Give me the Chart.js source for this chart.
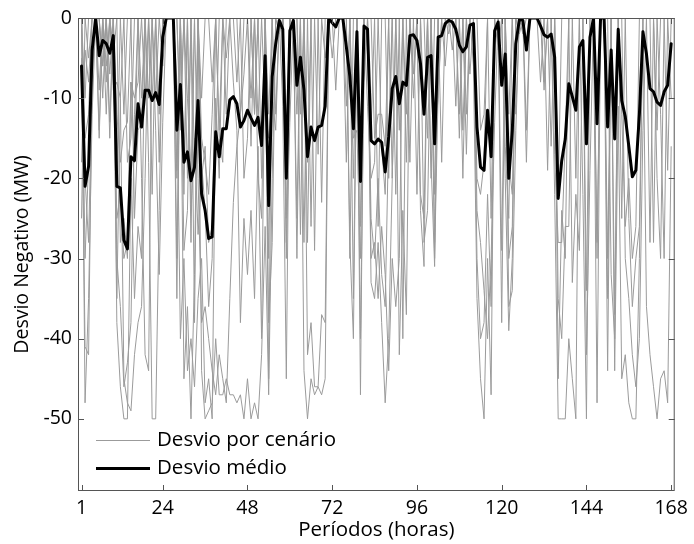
<!DOCTYPE html>
<html>
<head>
<meta charset="utf-8">
<script src="https://cdn.jsdelivr.net/npm/chart.js@4.4.1/dist/chart.umd.min.js"></script>
<style>
  html, body { margin: 0; padding: 0; background: #fff; }
  #wrap { width: 694px; height: 544px; }
</style>
</head>
<body>
<div id="wrap"><canvas id="chart" width="694" height="544"></canvas></div>
<script>
const periodos = Array.from({ length: 168 }, (_, i) => i + 1);
const xTicks = [1, 24, 48, 72, 96, 120, 144, 168];
const yTicks = [0, -10, -20, -30, -40, -50];

// desvio medio (MW)
const desvioMedio = [
  -6, -21, -18.5, -4, 0, -4.7, -2.8, -3.2, -4.4, -2.2,
  -21, -21.2, -27.7, -28.8, -17.3, -17.8, -10.7, -13.6, -9, -9,
  -10.3, -9.3, -10.8, -2.4, 0, 0, 0, -14, -8.3, -18,
  -16.7, -20.3, -18.6, -10.3, -21.9, -24, -27.5, -27.3, -14.2, -17.3,
  -13.8, -13.8, -10.2, -9.8, -10.7, -13.6, -12.8, -11.5, -12.5, -13.4,
  -12.4, -15.9, -4.7, -23.4, -7.3, -3.2, -0.3, -1.4, -20, -1.6,
  -0.3, -8.4, -4.9, -9, -17.3, -13.6, -15.3, -13.6, -13.4, -11,
  0, -0.6, -1.1, 0, 0, -3.6, -7.3, -13.8, -1.7, -20.4,
  -1, -1.4, -15.3, -15.7, -15.1, -15.5, -19.2, -14.8, -8.8, -7.3,
  -10.7, -8, -8.4, -2.2, -2.1, -2.8, -5.7, -12, -4.9, -4.7,
  -15.7, -2.4, -2.2, -0.7, -0.3, -0.5, -1.4, -3.4, -4.2, -3.6,
  -0.9, -0.7, -13.6, -18.6, -19, -11.5, -17.3, -1.6, -0.5, -8.4,
  -4.5, -20, -14, -3.2, -0.2, -0.3, -4, 0, 0, 0,
  -1, -2.1, -2.4, -2, -4.9, -22.5, -17.8, -15.1, -8.2, -9.8,
  -11.5, -3.6, -2.8, -15.7, -2.4, 0, -13.2, 0, 0, -13.6,
  -4, -15.1, -1.4, -10.3, -12.3, -16, -19.8, -19, -12, -1.7,
  -4.5, -8.8, -9.2, -10.5, -10.9, -9.2, -8.4, -3.2
];

// desvio por cenario (MW), thin grey lines
const cenarioA = [
  0, -15, -12, 0, 0, 0, -6, 0, 0, -4,
  -25, -22, -30, -28, -8, -18, 0, -10, 0, 0,
  0, -10, 0, 0, 0, 0, 0, -19, 0, -29,
  -24, 0, -18, 0, -15, -18, -22, -12, 0, -14,
  0, -5, 0, 0, 0, -12, -7, 0, 0, -12,
  0, 0, 0, -12, 0, -12, 0, 0, -14, 0,
  0, 0, 0, 0, -18, 0, 0, 0, 0, -5,
  0, 0, 0, 0, 0, 0, 0, -35, 0, -40,
  -8, 0, -30, -28, -35, -26, -32, -44, -30, -36,
  -30, 0, -18, 0, 0, -22, 0, -28, -24, 0,
  0, 0, 0, 0, 0, 0, 0, 0, 0, 0,
  0, 0, 0, 0, 0, 0, 0, 0, 0, 0,
  0, -12, 0, 0, 0, 0, 0, 0, 0, 0,
  0, -9, 0, 0, -22, -50, -50, -50, -40, -45,
  -50, 0, -22, -50, 0, 0, -48, 0, 0, -44,
  0, 0, 0, 0, 0, 0, 0, 0, 0, 0,
  0, 0, 0, 0, 0, 0, 0, 0
];
const cenarioB = [
  -18, -4, -8, 0, 0, -9, 0, 0, -13, 0,
  -12, -18, -14, -13, 0, -25, -14, -13, 0, -10,
  0, 0, -12, 0, 0, 0, 0, 0, -12, 0,
  -10, -20, 0, 0, -10, 0, 0, -8, 0, 0,
  0, 0, 0, -8, -14, -38, -25, -32, -24, -35,
  -16, -40, 0, -45, 0, 0, 0, 0, -18, 0,
  0, 0, -12, 0, 0, 0, 0, -17, 0, 0,
  0, 0, 0, 0, 0, -11, 0, -20, 0, 0,
  0, 0, -14, 0, -26, 0, 0, -20, 0, 0,
  0, 0, 0, 0, 0, 0, 0, -12, 0, 0,
  -15, -10, 0, 0, 0, 0, 0, 0, 0, -12,
  0, 0, 0, -14, -12, 0, 0, 0, 0, 0,
  0, -18, -22, 0, 0, 0, 0, 0, 0, 0,
  0, 0, 0, 0, 0, -22, 0, 0, 0, 0,
  0, 0, 0, 0, 0, 0, 0, 0, 0, 0,
  0, 0, 0, 0, 0, 0, 0, 0, 0, 0,
  0, 0, 0, 0, 0, 0, 0, 0
];
const cenarioC = [
  0, -48, -35, -12, 0, 0, 0, -8, 0, 0,
  -38, -46, -50, -50, -20, -35, -26, -30, 0, -18,
  -50, -50, -24, 0, 0, 0, 0, -30, 0, -45,
  -36, -50, -32, 0, -44, -50, -49, -48, -40, -47,
  -47, -45, -47, -47, -48, -47, -50, -45, -50, -48,
  -50, -42, -26, -47, -20, 0, 0, 0, 0, 0,
  0, 0, 0, 0, 0, 0, 0, 0, 0, 0,
  0, 0, 0, 0, 0, 0, -28, -40, 0, -47,
  0, 0, -33, -35, -28, -38, -48, -40, -20, 0,
  -42, -24, -37, 0, -10, 0, -24, -31, 0, -18,
  -31, 0, -18, 0, 0, 0, -11, 0, -20, 0,
  0, -6, -35, -45, -50, -30, -47, 0, -4, 0,
  -20, -39, -30, 0, 0, -2, 0, 0, 0, 0,
  0, 0, 0, 0, 0, 0, 0, 0, 0, 0,
  0, 0, 0, 0, 0, 0, 0, 0, 0, 0,
  0, -44, -11, -45, -42, -48, -50, -50, -30, 0,
  0, 0, -28, 0, -12, -30, 0, -10
];
const cenarioD = [
  -25, 0, -5, 0, 0, 0, 0, -6, 0, -9,
  -8, -10, 0, -18, -15, 0, 0, 0, -10, 0,
  -10, 0, 0, -6, 0, 0, 0, -20, 0, -18,
  0, -24, -15, -27, -20, -16, -28, -26, -17, 0,
  0, 0, 0, 0, 0, 0, -20, -15, 0, -12,
  0, -20, 0, -30, 0, 0, 0, 0, -25, 0,
  0, -12, 0, 0, -28, 0, -29, 0, 0, 0,
  0, 0, 0, 0, 0, 0, -30, 0, 0, -26,
  0, -11, -20, -18, 0, -16, -22, 0, -20, 0,
  -14, 0, -12, 0, -7, 0, 0, 0, -15, 0,
  -22, 0, 0, 0, 0, -4, 0, 0, -14, 0,
  0, 0, -20, -22, -18, 0, -25, 0, 0, 0,
  -16, -25, 0, -12, 0, 0, 0, 0, 0, 0,
  -8, 0, 0, 0, -17, -28, -28, -15, 0, 0,
  -20, 0, 0, 0, 0, 0, 0, 0, 0, -30,
  0, 0, 0, -12, -26, -20, -30, -26, 0, 0,
  0, 0, 0, -14, 0, 0, 0, 0
];
const cenarioE = [
  0, -20, -28, -8, 0, -14, 0, 0, -7, 0,
  -30, -36, -46, -43, -38, -12, 0, -20, -42, -44,
  0, -14, -32, -13, 0, 0, 0, -8, -40, -30,
  -44, -40, -46, -35, -30, -48, -45, -50, -10, -20,
  0, -12, 0, 0, -8, 0, 0, 0, -10, 0,
  -13, 0, -12, -15, -10, -14, 0, -11, -45, 0,
  0, 0, -27, 0, -42, -38, -46, -46, -37, -38,
  0, 0, -9, 0, 0, 0, 0, 0, 0, -20,
  0, 0, 0, -15, -12, -12, -16, 0, 0, 0,
  0, 0, 0, 0, 0, 0, 0, 0, 0, 0,
  -30, -9, 0, 0, -2, 0, 0, -15, 0, -17,
  0, 0, -30, -40, -38, -22, -36, 0, 0, -38,
  0, -36, -34, -14, 0, 0, -18, 0, 0, 0,
  0, 0, -19, 0, 0, -45, -24, -30, 0, -33,
  -22, -29, 0, -42, -19, 0, -30, 0, 0, -35,
  0, 0, 0, 0, 0, 0, 0, 0, 0, 0,
  0, 0, 0, 0, 0, 0, 0, 0
];
const cenarioF = [
  -5, -41, -42, -6, 0, 0, -10, 0, 0, -5,
  0, -28, -25, -30, -8, -10, -8, 0, 0, 0,
  0, 0, 0, 0, 0, 0, 0, 0, -14, 0,
  -20, 0, -38, 0, -18, -24, -36, -30, 0, -15,
  -18, 0, 0, 0, 0, 0, 0, 0, 0, 0,
  0, 0, 0, 0, 0, 0, 0, 0, -30, 0,
  -2, -25, 0, -44, -50, -45, -47, -46, -47, -45,
  0, 0, 0, 0, 0, 0, 0, 0, 0, 0,
  0, 0, 0, 0, 0, 0, 0, 0, 0, 0,
  0, 0, 0, 0, 0, 0, 0, 0, 0, 0,
  0, 0, 0, 0, 0, 0, 0, 0, 0, 0,
  0, 0, 0, 0, 0, 0, 0, 0, 0, 0,
  0, 0, 0, 0, 0, 0, 0, 0, 0, 0,
  0, 0, 0, 0, 0, 0, 0, 0, 0, 0,
  0, 0, 0, 0, 0, 0, 0, 0, 0, 0,
  -32, -40, 0, 0, -30, -35, -42, -46, -40, -14,
  0, -28, 0, -20, -30, 0, -19, 0
];
const cenarioG = [
  0, -10, 0, 0, 0, -15, 0, -12, 0, 0,
  -35, -10, -45, -48, -49, -42, -38, -36, -20, 0,
  -22, 0, -18, 0, 0, 0, 0, -35, 0, -22,
  0, -28, 0, -20, -38, -36, -40, -44, -47, -42,
  -45, -48, -35, -23, -16, -12, 0, 0, -16, 0,
  -20, -25, 0, -38, -28, 0, -2, 0, -28, -13,
  0, -30, 0, -28, 0, -26, 0, 0, -23, 0,
  0, -5, 0, 0, 0, -18, 0, -15, -14, -30,
  0, 0, -25, -30, -20, -32, -36, -14, 0, -22,
  0, -40, 0, -18, 0, 0, -22, -25, 0, -20,
  0, 0, 0, 0, 0, 0, 0, 0, 0, 0,
  0, 0, 0, 0, 0, 0, 0, 0, 0, 0,
  0, 0, 0, 0, 0, 0, 0, 0, 0, 0,
  0, -8, 0, -16, 0, -35, -40, -26, -26, 0,
  0, 0, 0, -34, 0, 0, -28, 0, 0, 0,
  0, -37, 0, -25, 0, -25, -36, -30, -26, 0,
  -36, -42, -46, -50, -45, -44, -48, -16
];
const cenarioH = [
  0, -30, -18, -6, 0, 0, -6, 0, -15, 0,
  -20, 0, -12, 0, 0, 0, 0, 0, 0, 0,
  0, 0, 0, 0, 0, 0, 0, 0, 0, 0,
  0, 0, 0, 0, 0, 0, 0, 0, 0, 0,
  0, 0, 0, 0, 0, 0, 0, 0, 0, 0,
  0, 0, 0, 0, 0, 0, 0, 0, 0, 0,
  0, 0, 0, 0, 0, 0, 0, 0, 0, 0,
  0, 0, 0, 0, 0, 0, 0, 0, 0, 0,
  0, 0, 0, 0, 0, 0, 0, 0, 0, 0,
  0, 0, 0, 0, 0, 0, 0, 0, 0, 0,
  -28, 0, 0, -6, 0, 0, 0, -12, 0, 0,
  -7, 0, -24, -28, -34, -40, -30, -13, 0, -29,
  0, -30, -26, 0, -2, 0, -14, 0, 0, 0,
  0, 0, 0, 0, 0, 0, 0, 0, 0, 0,
  0, 0, 0, 0, 0, 0, 0, 0, 0, 0,
  0, 0, 0, 0, 0, 0, 0, 0, 0, 0,
  0, 0, 0, 0, 0, 0, 0, 0
];
const cenarios = [cenarioA, cenarioB, cenarioC, cenarioD, cenarioE, cenarioF, cenarioG, cenarioH];

const FONT = "'Open Sans', sans-serif";
const GREY = "#9b9b9b";
const FRAME = "#555";

function toPoints(values) {
  return values.map((v, i) => ({ x: periodos[i], y: v }));
}

const datasets = [
  {
    label: "Desvio médio",
    data: toPoints(desvioMedio),
    borderColor: "#000",
    borderWidth: 3,
    borderJoinStyle: "round",
    borderCapStyle: "round",
    order: 0,
  },
].concat(
  cenarios.map((c, i) => ({
    label: "Desvio por cenário " + (i + 1),
    data: toPoints(c),
    borderColor: GREY,
    borderWidth: 1,
    order: 1,
  }))
);

// box round the plot with ticks pointing inward
const framePlugin = {
  id: "frame",
  afterDatasetsDraw(chart) {
    const { ctx, chartArea: a, scales } = chart;
    ctx.save();
    ctx.strokeStyle = FRAME;
    ctx.lineWidth = 1;
    ctx.strokeRect(a.left + 0.5, a.top + 0.5, a.width - 1, a.height - 1);
    ctx.beginPath();
    xTicks.forEach((v) => {
      const x = Math.round(scales.x.getPixelForValue(v)) + 0.5;
      ctx.moveTo(x, a.bottom);
      ctx.lineTo(x, a.bottom - 6);
      ctx.moveTo(x, a.top);
      ctx.lineTo(x, a.top + 6);
    });
    yTicks.forEach((v) => {
      const y = Math.round(scales.y.getPixelForValue(v)) + 0.5;
      ctx.moveTo(a.left, y);
      ctx.lineTo(a.left + 6, y);
      ctx.moveTo(a.right, y);
      ctx.lineTo(a.right - 6, y);
    });
    ctx.stroke();
    ctx.restore();
  },
};

// legend inside the plot, lower left
const legendPlugin = {
  id: "insideLegend",
  afterDraw(chart) {
    const { ctx } = chart;
    const items = [
      { text: "Desvio por cenário", color: GREY, width: 1, y: 440 },
      { text: "Desvio médio", color: "#000", width: 3, y: 468 },
    ];
    ctx.save();
    ctx.font = "20.5px " + FONT;
    ctx.textBaseline = "middle";
    ctx.fillStyle = "#000";
    items.forEach((it) => {
      ctx.strokeStyle = it.color;
      ctx.lineWidth = it.width;
      ctx.beginPath();
      ctx.moveTo(96, it.y + 0.5);
      ctx.lineTo(150, it.y + 0.5);
      ctx.stroke();
      ctx.fillText(it.text, 157, it.y);
    });
    ctx.restore();
  },
};

new Chart(document.getElementById("chart"), {
  type: "line",
  data: { datasets },
  options: {
    responsive: false,
    animation: false,
    devicePixelRatio: 1,
    layout: { padding: { top: 18, right: 16, left: 0, bottom: 0 } },
    elements: {
      point: { radius: 0 },
      line: { tension: 0 },
    },
    plugins: {
      legend: { display: false },
      tooltip: { enabled: false },
    },
    scales: {
      x: {
        type: "linear",
        min: 0,
        max: 169,
        afterBuildTicks: (s) => {
          s.ticks = xTicks.map((v) => ({ value: v }));
        },
        afterFit: (s) => {
          s.height = 53;
        },
        grid: { display: false, drawTicks: false },
        border: { display: false },
        ticks: {
          color: "#000",
          font: { family: FONT, size: 19.5 },
          padding: 6,
          maxRotation: 0,
          autoSkip: false,
        },
        title: {
          display: true,
          text: "Períodos (horas)",
          color: "#000",
          font: { family: FONT, size: 20.5 },
          padding: { top: 0, bottom: 2 },
        },
      },
      y: {
        min: -59,
        max: 0,
        afterBuildTicks: (s) => {
          s.ticks = yTicks.map((v) => ({ value: v }));
        },
        afterFit: (s) => {
          s.width = 78;
        },
        grid: { display: false, drawTicks: false },
        border: { display: false },
        ticks: {
          color: "#000",
          font: { family: FONT, size: 19.5 },
          padding: 6,
        },
        title: {
          display: true,
          text: "Desvio Negativo (MW)",
          color: "#000",
          font: { family: FONT, size: 19.5 },
          padding: { top: 11, bottom: 0 },
        },
      },
    },
  },
  plugins: [framePlugin, legendPlugin],
});
</script>
</body>
</html>
